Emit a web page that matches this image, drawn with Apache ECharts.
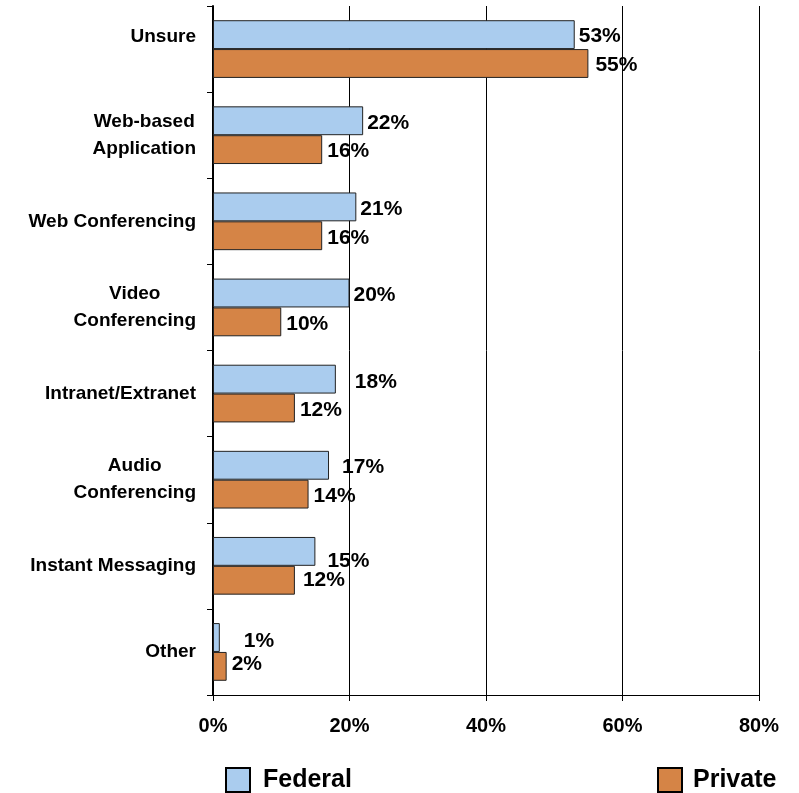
<!DOCTYPE html>
<html>
<head>
<meta charset="utf-8">
<script src="https://cdn.jsdelivr.net/npm/echarts@6/dist/echarts.min.js"></script>
<style>
  html, body { margin: 0; padding: 0; background: #fff; }
  #chart { width: 799px; height: 793px; }
</style>
</head>
<body>
<div id="chart"></div>
<script>
var categories = ['Unsure', 'Web-based\nApplication', 'Web Conferencing', 'Video\nConferencing',
  'Intranet/Extranet', 'Audio\nConferencing', 'Instant Messaging', 'Other'];
var federal = [53, 22, 21, 20, 18, 17, 15, 1];
var privateVals = [55, 16, 16, 10, 12, 14, 12, 2];
var xTicks = [0, 20, 40, 60, 80];

// label nudges seen in the original (x, y)
var fedLabelShift = [[0, 2], [0, 2], [0, 2], [0, 2], [15, 3], [9, 2], [8, 10], [20, 4]];
var privLabelShift = [[2, 2], [0, 2], [0, 2], [0, 2], [0, 2], [0, 2], [3, 0], [0, -2]];

var font = 'Liberation Sans, Arial, sans-serif';
var blue = '#AACCEE';
var orange = '#D58446';

var chart = echarts.init(document.getElementById('chart'));

function labelled(vals, shifts) {
  return vals.map(function (v, i) {
    return { value: v, label: { offset: shifts[i] } };
  });
}

var catText = { align: 'center', fontFamily: font, fontWeight: 'bold', fontSize: 19, lineHeight: 27, color: '#000' };

var option = {
  animation: false,
  grid: { left: 213, right: 40, top: 6, bottom: 98, containLabel: false },
  legend: [
    {
      data: ['Federal'], left: 220, top: 762, itemWidth: 24, itemHeight: 24,
      icon: 'rect',
      itemStyle: { borderColor: '#000', borderWidth: 2 },
      textStyle: { fontFamily: font, fontWeight: 'bold', fontSize: 25, color: '#000', padding: [0, 0, 0, 8] }
    },
    {
      data: ['Private'], left: 652, top: 762, itemWidth: 24, itemHeight: 24,
      icon: 'rect',
      itemStyle: { borderColor: '#000', borderWidth: 2 },
      textStyle: { fontFamily: font, fontWeight: 'bold', fontSize: 25, color: '#000', padding: [0, 0, 0, 6] }
    }
  ],
  xAxis: {
    type: 'value',
    min: xTicks[0],
    max: xTicks[xTicks.length - 1],
    interval: 20,
    axisLine: { show: true, lineStyle: { color: '#000', width: 1 } },
    axisTick: { show: true, length: 6, lineStyle: { color: '#000' } },
    splitLine: { show: true, lineStyle: { color: '#000', width: 1 } },
    axisLabel: {
      formatter: '{value}%', margin: 21,
      fontFamily: font, fontWeight: 'bold', fontSize: 20, color: '#000'
    }
  },
  yAxis: {
    type: 'category',
    data: categories,
    inverse: true,
    axisLine: { show: true, lineStyle: { color: '#000', width: 2 } },
    axisTick: { show: true, length: 6, lineStyle: { color: '#000' } },
    axisLabel: {
      margin: 17,
      color: '#000',
      formatter: function (v, i) {
        var tag = i === 0 ? 'u' : 'c';
        return v.split('\n').map(function (s) { return '{' + tag + '|' + s + '}'; }).join('\n');
      },
      rich: {
        c: catText,
        u: Object.assign({}, catText, { padding: [0, 0, 25, 0] })
      }
    }
  },
  series: [
    {
      name: 'Federal',
      type: 'bar',
      data: labelled(federal, fedLabelShift),
      barGap: '0%',
      barCategoryGap: '33%',
      itemStyle: { color: blue, borderColor: '#222', borderWidth: 1 },
      label: {
        show: true, position: 'right', distance: 4, formatter: '{c}%',
        fontFamily: font, fontWeight: 'bold', fontSize: 21, color: '#000'
      }
    },
    {
      name: 'Private',
      type: 'bar',
      data: labelled(privateVals, privLabelShift),
      itemStyle: { color: orange, borderColor: '#222', borderWidth: 1 },
      label: {
        show: true, position: 'right', distance: 5, formatter: '{c}%',
        fontFamily: font, fontWeight: 'bold', fontSize: 21, color: '#000'
      }
    }
  ]
};

chart.setOption(option);
</script>
</body>
</html>
